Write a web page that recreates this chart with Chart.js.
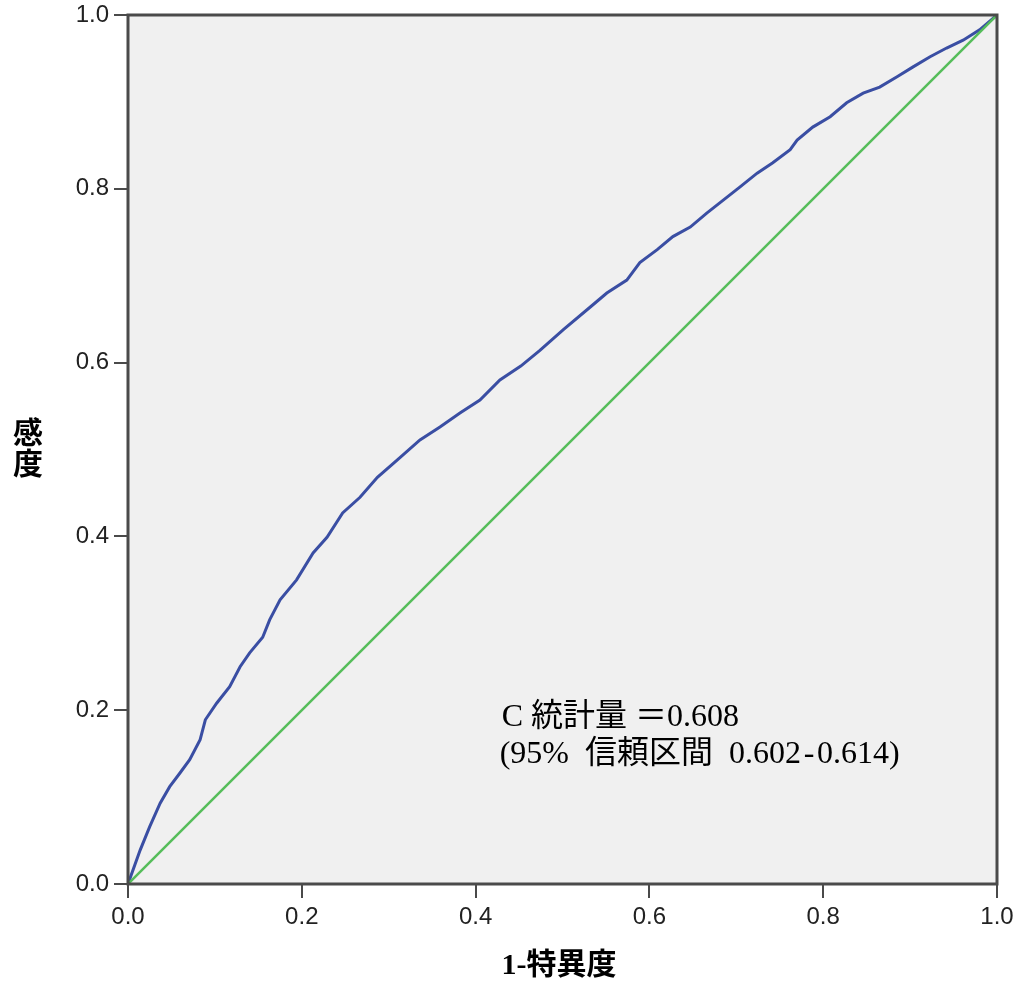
<!DOCTYPE html>
<html>
<head>
<meta charset="utf-8">
<script src="https://cdn.jsdelivr.net/npm/chart.js@4.4.1/dist/chart.umd.min.js"></script>
<style>
  body { margin: 0; background: #fff; }
  canvas { display: block; }
</style>
</head>
<body>
<canvas id="roc" width="1023" height="994"></canvas>
<script>
// courbe ROC (1-spécificité, sensibilité)
const fpr = [0, 0.014, 0.025, 0.037, 0.048, 0.060, 0.071, 0.083, 0.089, 0.102,
    0.117, 0.129, 0.140, 0.155, 0.163, 0.175, 0.194, 0.213, 0.229, 0.247,
    0.267, 0.287, 0.310, 0.336, 0.359, 0.382, 0.405, 0.428, 0.452, 0.474,
    0.501, 0.532, 0.551, 0.574, 0.589, 0.609, 0.627, 0.647, 0.666, 0.685,
    0.704, 0.724, 0.742, 0.762, 0.770, 0.788, 0.808, 0.827, 0.846, 0.865,
    0.885, 0.903, 0.923, 0.942, 0.961, 0.980, 1];
const tpr = [0, 0.039, 0.066, 0.093, 0.112, 0.128, 0.143, 0.166, 0.189, 0.208,
    0.227, 0.250, 0.266, 0.284, 0.304, 0.327, 0.350, 0.381, 0.399, 0.427,
    0.445, 0.468, 0.488, 0.511, 0.526, 0.542, 0.557, 0.580, 0.596, 0.614,
    0.638, 0.664, 0.680, 0.695, 0.715, 0.730, 0.745, 0.756, 0.772, 0.787,
    0.802, 0.818, 0.830, 0.845, 0.856, 0.871, 0.883, 0.899, 0.910, 0.917,
    0.929, 0.940, 0.952, 0.962, 0.971, 0.983, 1];
const diagX = [0, 1];
const diagY = [0, 1];
const tickValues = [0, 0.2, 0.4, 0.6, 0.8, 1.0];
const tickLabels = ['0.0', '0.2', '0.4', '0.6', '0.8', '1.0'];
const xTitle = '1-特異度';
const yTitle = ['感', '度'];
const noteLines = ['C 統計量 ＝0.608', '(95%  信頼区間  0.602\u200a\u2010\u200a0.614)'];
const noteAt = { x: 0.430, y: 0.182 };

const ctx = document.getElementById('roc');

const fondEtCadre = {
    id: 'fondEtCadre',
    beforeDraw(chart) {
        const { ctx, chartArea: a } = chart;
        ctx.save();
        ctx.fillStyle = '#f0f0f0';
        ctx.fillRect(a.left, a.top, a.right - a.left, a.bottom - a.top);
        ctx.restore();
    },
    afterDraw(chart) {
        const { ctx, chartArea: a, scales } = chart;
        ctx.save();
        ctx.strokeStyle = '#4a4a4a';
        ctx.lineWidth = 3;
        ctx.strokeRect(a.left, a.top, a.right - a.left, a.bottom - a.top);

        // titres des axes
        ctx.fillStyle = '#000';
        ctx.font = 'bold 30px "Liberation Serif", "Noto Sans CJK JP", serif';
        ctx.textAlign = 'center';
        ctx.textBaseline = 'middle';
        ctx.fillText(xTitle, 559, 966);
        yTitle.forEach((c, i) => ctx.fillText(c, 28, 435 + i * 31));

        // texte de la statistique C
        ctx.font = '32px "Liberation Serif", "Noto Sans CJK JP", serif';
        ctx.textAlign = 'left';
        ctx.textBaseline = 'alphabetic';
        const px = scales.x.getPixelForValue(noteAt.x);
        const py = scales.y.getPixelForValue(noteAt.y);
        noteLines.forEach((l, i) => ctx.fillText(l, px - (i ? 2 : 0), py + i * 37));
        ctx.restore();
    }
};

const axe = (sizeProp, size) => ({
    type: 'linear',
    min: 0,
    max: 1,
    afterBuildTicks: scale => { scale.ticks = tickValues.map(v => ({ value: v })); },
    afterFit: scale => {
        scale[sizeProp] = size;
        scale.paddingTop = 0;
        scale.paddingBottom = 0;
        scale.paddingLeft = 0;
        scale.paddingRight = 0;
    },
    border: { display: false },
    grid: { drawOnChartArea: false, drawTicks: true, tickLength: 14, color: '#4a4a4a', lineWidth: 2 },
    ticks: {
        color: '#222',
        font: { family: '"Liberation Sans", Arial, sans-serif', size: 24 },
        callback: (v, i) => tickLabels[i],
    }
});

const xAxe = axe('height', 110);
xAxe.ticks.padding = 5;
xAxe.ticks.maxRotation = 0;
const yAxe = axe('width', 128);
yAxe.ticks.padding = 5;

new Chart(ctx, {
    type: 'scatter',
    data: {
        datasets: [{
            label: 'diagonale',
            data: diagX.map((x, i) => ({ x, y: diagY[i] })),
            showLine: true,
            borderColor: '#55bd5a',
            borderWidth: 2.5,
            pointRadius: 0,
        }, {
            label: 'ROC',
            data: fpr.map((x, i) => ({ x, y: tpr[i] })),
            showLine: true,
            borderColor: '#3a4ea3',
            borderWidth: 3,
            pointRadius: 0,
        }]
    },
    options: {
        responsive: false,
        animation: false,
        layout: { padding: { left: 0, top: 15, right: 26, bottom: 0 } },
        scales: { x: xAxe, y: yAxe },
        plugins: {
            legend: { display: false },
            tooltip: { enabled: false }
        }
    },
    plugins: [fondEtCadre]
});
</script>
</body>
</html>
